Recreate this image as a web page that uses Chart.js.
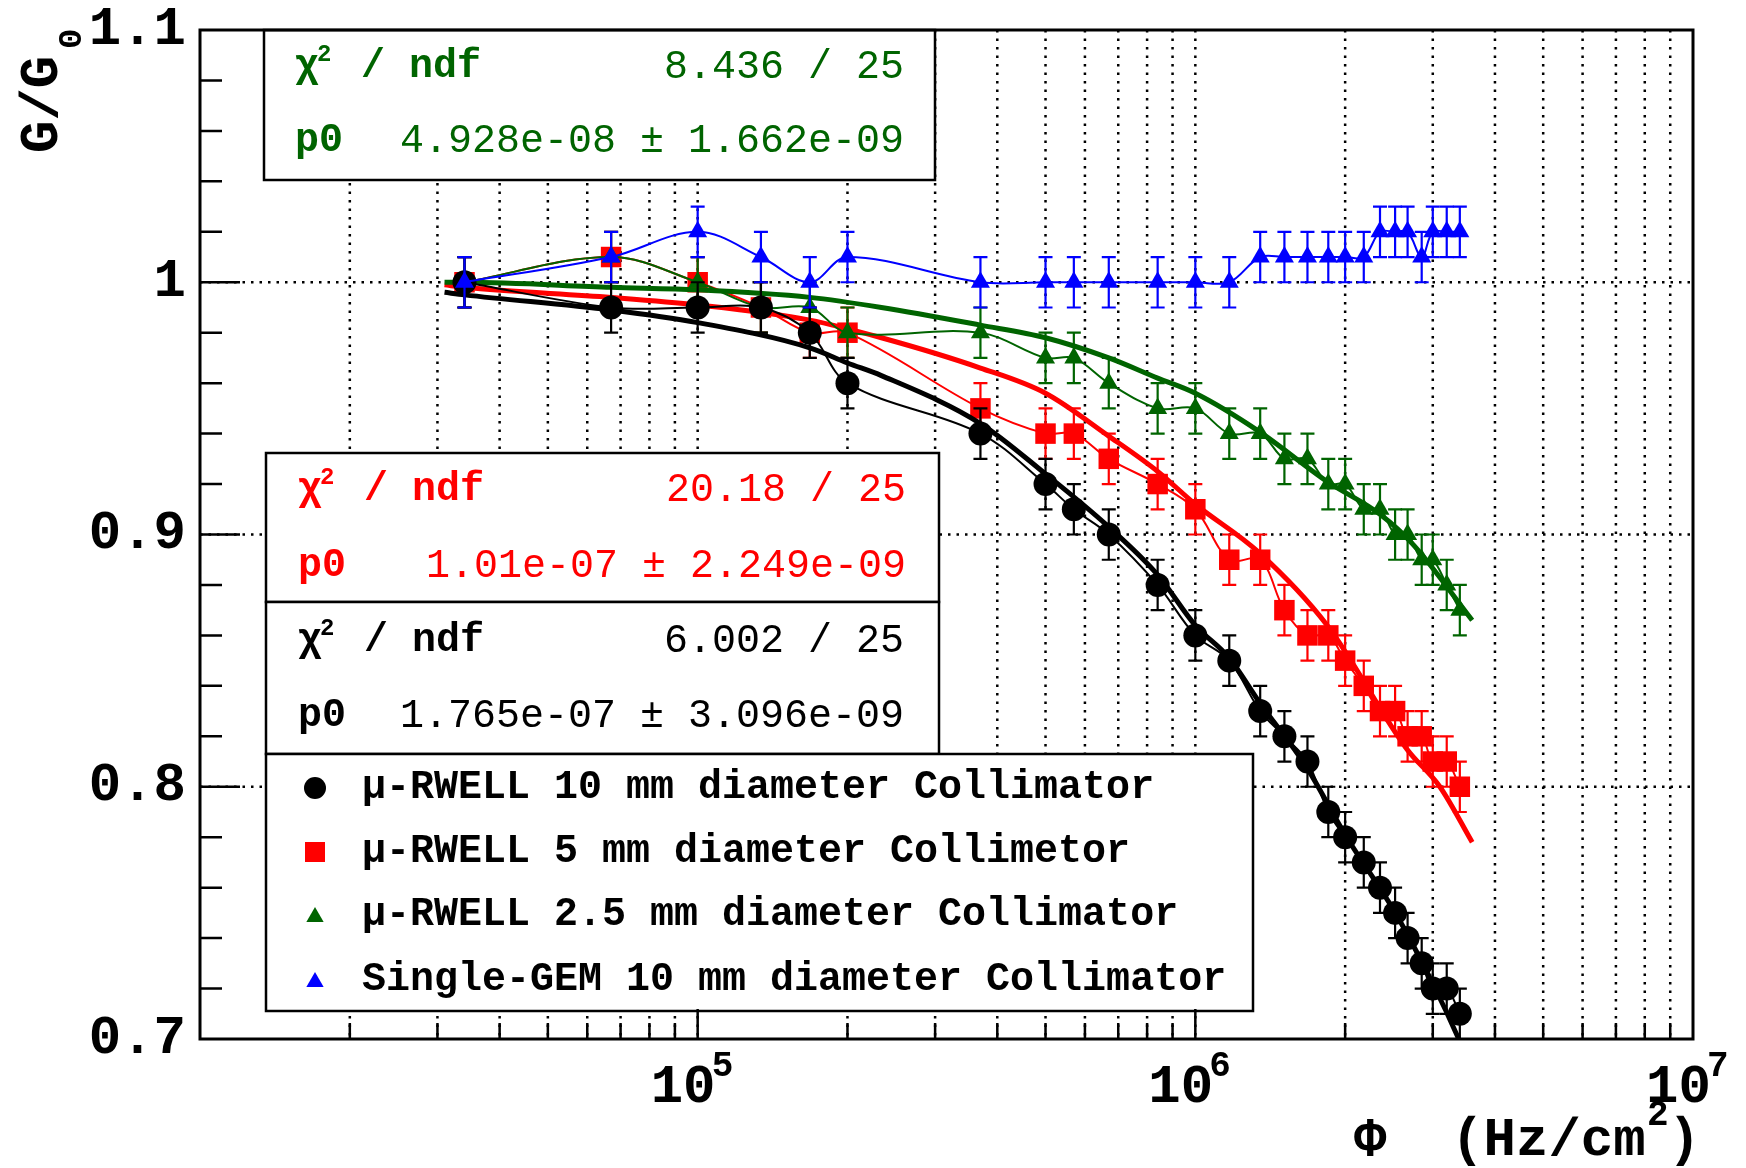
<!DOCTYPE html>
<html lang="en">
<head>
  <meta charset="UTF-8" />
  <title>G/G0 vs rate</title>
  <script src="https://cdn.jsdelivr.net/npm/chart.js@4.4.3/dist/chart.umd.min.js"></script>
  <style>
    body {
      margin: 0;
      background-color: #ffffff;
    }
    .chart-box {
      width: 1746px;
      height: 1168px;
    }
  </style>
</head>
<body>
  <div class="chart-box">
    <canvas id="gainChart" width="1746" height="1168"></canvas>
  </div>

  <script>
    // flux of each measurement step (Hz/cm2), same for all four curves
    const phi = [3.4e4, 6.7e4, 1.0e5, 1.34e5, 1.68e5, 2.0e5, 3.7e5, 5.0e5, 5.7e5, 6.7e5, 8.4e5, 1.0e6, 1.17e6,
                 1.35e6, 1.51e6, 1.68e6, 1.85e6, 2.0e6, 2.18e6, 2.35e6, 2.52e6, 2.67e6, 2.85e6, 3.0e6, 3.2e6, 3.4e6];

    // G/G0 per detector
    const gRwell10 = [1.00, 0.99, 0.99, 0.99, 0.98, 0.96, 0.94, 0.92, 0.91, 0.90, 0.88, 0.86, 0.85,
                      0.83, 0.82, 0.81, 0.79, 0.78, 0.77, 0.76, 0.75, 0.74, 0.73, 0.72, 0.72, 0.71];
    const gRwell5 = [1.00, 1.01, 1.00, 0.99, 0.98, 0.98, 0.95, 0.94, 0.94, 0.93, 0.92, 0.91, 0.89,
                     0.89, 0.87, 0.86, 0.86, 0.85, 0.84, 0.83, 0.83, 0.82, 0.82, 0.81, 0.81, 0.80];
    const gRwell25 = [1.00, 1.01, 1.00, 0.99, 0.99, 0.98, 0.98, 0.97, 0.97, 0.96, 0.95, 0.95, 0.94,
                      0.94, 0.93, 0.93, 0.92, 0.92, 0.91, 0.91, 0.90, 0.90, 0.89, 0.89, 0.88, 0.87];
    const gGem10 = [1.00, 1.01, 1.02, 1.01, 1.00, 1.01, 1.00, 1.00, 1.00, 1.00, 1.00, 1.00, 1.00,
                    1.01, 1.01, 1.01, 1.01, 1.01, 1.01, 1.02, 1.02, 1.02, 1.01, 1.02, 1.02, 1.02];

    // errors (same size for every point)
    const eRwell10 = [0.01, 0.01, 0.01, 0.01, 0.01, 0.01, 0.01, 0.01, 0.01, 0.01, 0.01, 0.01, 0.01,
                      0.01, 0.01, 0.01, 0.01, 0.01, 0.01, 0.01, 0.01, 0.01, 0.01, 0.01, 0.01, 0.01];
    const eRwell5 = [0.01, 0.01, 0.01, 0.01, 0.01, 0.01, 0.01, 0.01, 0.01, 0.01, 0.01, 0.01, 0.01,
                     0.01, 0.01, 0.01, 0.01, 0.01, 0.01, 0.01, 0.01, 0.01, 0.01, 0.01, 0.01, 0.01];
    const eRwell25 = [0.01, 0.01, 0.01, 0.01, 0.01, 0.01, 0.01, 0.01, 0.01, 0.01, 0.01, 0.01, 0.01,
                      0.01, 0.01, 0.01, 0.01, 0.01, 0.01, 0.01, 0.01, 0.01, 0.01, 0.01, 0.01, 0.01];
    const eGem10 = [0.01, 0.01, 0.01, 0.01, 0.01, 0.01, 0.01, 0.01, 0.01, 0.01, 0.01, 0.01, 0.01,
                    0.01, 0.01, 0.01, 0.01, 0.01, 0.01, 0.01, 0.01, 0.01, 0.01, 0.01, 0.01, 0.01];

    // fitted curves
    const fitPhi10 = [3.1e4, 3.4e4, 6.7e4, 1.0e5, 1.68e5, 2.0e5, 2.34e5, 3.7e5, 5.0e5, 6.7e5, 8.4e5, 1.0e6,
                      1.17e6, 1.35e6, 1.67e6, 2.0e6, 2.54e6, 3.0e6, 3.4e6, 3.6e6];
    const fitG10 = [0.996, 0.995, 0.989, 0.984, 0.974, 0.968, 0.963, 0.944, 0.924, 0.903, 0.884, 0.864,
                    0.851, 0.833, 0.808, 0.781, 0.749, 0.722, 0.699, 0.687];
    const fitPhi5 = [3.1e4, 3.4e4, 6.7e4, 1.0e5, 1.68e5, 2.34e5, 3.7e5, 5.0e5, 6.7e5, 8.4e5, 1.0e6,
                     1.34e6, 1.84e6, 2.66e6, 3.1e6, 3.6e6];
    const fitG5 = [0.999, 0.998, 0.994, 0.991, 0.985, 0.978, 0.966, 0.956, 0.939, 0.925, 0.912,
                   0.893, 0.864, 0.815, 0.800, 0.778];
    const fitPhi25 = [3.1e4, 3.4e4, 6.7e4, 1.0e5, 1.68e5, 2.34e5, 3.7e5, 5.0e5, 6.7e5, 8.4e5, 1.0e6,
                      1.34e6, 1.84e6, 2.35e6, 2.74e6, 3.6e6];
    const fitG25 = [1.000, 1.000, 0.998, 0.997, 0.994, 0.990, 0.983, 0.978, 0.970, 0.962, 0.956,
                    0.941, 0.921, 0.908, 0.896, 0.866];

    // texts
    const seriesLabels = ['μ-RWELL 10 mm diameter Collimator', 'μ-RWELL 5 mm diameter Collimetor',
                          'μ-RWELL 2.5 mm diameter Collimator', 'Single-GEM 10 mm diameter Collimator'];
    const chiValues = ['8.436 / 25', '20.18 / 25', '6.002 / 25'];   // 2.5 mm, 5 mm, 10 mm
    const p0Values = ['4.928e-08 ± 1.662e-09', '1.01e-07 ± 2.249e-09', '1.765e-07 ± 3.096e-09'];
    const yTickValues = [0.7, 0.8, 0.9, 1.0, 1.1];
    const yTickLabels = ['0.7', '0.8', '0.9', '1', '1.1'];
    const xDecades = [1e5, 1e6, 1e7];
    const xDecadeExp = ['5', '6', '7'];

    const BLACK = '#000000', RED = '#ff0000', GREEN = '#006400', BLUE = '#0000ff';
    const MONO = '"Liberation Mono", "DejaVu Sans Mono", monospace';

    const pts = (xs, ys) => xs.map((x, i) => ({ x: x, y: ys[i] }));

    function marker(ctx, style, x, y, r, color) {
      ctx.fillStyle = color;
      ctx.beginPath();
      if (style === 'circle') {
        ctx.arc(x, y, r, 0, Math.PI * 2);
      } else if (style === 'rect') {
        ctx.rect(x - r, y - r, 2 * r, 2 * r);
      } else {
        ctx.moveTo(x, y - r);
        ctx.lineTo(x + r * 0.866, y + r * 0.5);
        ctx.lineTo(x - r * 0.866, y + r * 0.5);
        ctx.closePath();
      }
      ctx.fill();
    }

    function statBox(ctx, b, color, chi, p0) {
      ctx.fillStyle = '#ffffff';
      ctx.fillRect(b.x, b.y, b.w, b.h);
      ctx.strokeStyle = '#000000';
      ctx.lineWidth = 2.5;
      ctx.strokeRect(b.x, b.y, b.w, b.h);
      ctx.fillStyle = color;
      ctx.textBaseline = 'middle';
      ctx.textAlign = 'left';
      ctx.font = 'bold 40px ' + MONO;
      ctx.fillText('χ', b.lx, b.r1);
      ctx.fillText('/ ndf', b.lx + 66, b.r1);
      ctx.fillText('p0', b.lx, b.r2);
      ctx.font = 'bold 24px ' + MONO;
      ctx.fillText('2', b.lx + 22, b.r1 - 12);
      ctx.font = '40px ' + MONO;
      ctx.textAlign = 'right';
      ctx.fillText(chi, b.rx, b.r1);
      ctx.fillText(p0, b.rx, b.r2);
    }

    // ROOT-like frame, dotted grid, inward ticks, error bars, stat boxes
    const rootLook = {
      id: 'rootLook',
      beforeDatasetsDraw(chart) {
        const { ctx, chartArea: a, scales: { x, y } } = chart;
        ctx.save();
        ctx.strokeStyle = '#000000';
        ctx.lineWidth = 2.5;
        ctx.setLineDash([2.5, 6]);
        for (let e = 4; e <= 6; e++) {
          for (let m = 1; m <= 9; m++) {
            const px = x.getPixelForValue(m * Math.pow(10, e));
            if (px <= a.left + 2 || px >= a.right - 2) continue;
            ctx.beginPath();
            ctx.moveTo(px, a.top);
            ctx.lineTo(px, a.bottom);
            ctx.stroke();
          }
        }
        [0.8, 0.9, 1.0].forEach(v => {
          const py = y.getPixelForValue(v);
          ctx.beginPath();
          ctx.moveTo(a.left, py);
          ctx.lineTo(a.right, py);
          ctx.stroke();
        });
        ctx.restore();
      },
      beforeDatasetDraw(chart, args) {
        const ds = chart.data.datasets[args.index];
        if (!ds.errors) return;
        const { ctx, scales: { x, y } } = chart;
        ctx.save();
        ctx.strokeStyle = ds.borderColor;
        ctx.lineWidth = 2.2;
        ds.data.forEach((p, i) => {
          const px = x.getPixelForValue(p.x);
          const top = y.getPixelForValue(p.y + ds.errors[i]);
          const bot = y.getPixelForValue(p.y - ds.errors[i]);
          ctx.beginPath();
          ctx.moveTo(px, top); ctx.lineTo(px, bot);
          ctx.moveTo(px - 7, top); ctx.lineTo(px + 7, top);
          ctx.moveTo(px - 7, bot); ctx.lineTo(px + 7, bot);
          ctx.stroke();
        });
        ctx.restore();
      },
      afterDraw(chart) {
        const { ctx, chartArea: a, scales: { x, y } } = chart;
        ctx.save();

        statBox(ctx, { x: 264, y: 30, w: 671, h: 150, lx: 295, rx: 904, r1: 67, r2: 141 }, GREEN, chiValues[0], p0Values[0]);
        statBox(ctx, { x: 266, y: 453, w: 673, h: 149, lx: 298, rx: 906, r1: 490, r2: 566 }, RED, chiValues[1], p0Values[1]);
        statBox(ctx, { x: 266, y: 602, w: 673, h: 152, lx: 298, rx: 904, r1: 641, r2: 716 }, BLACK, chiValues[2], p0Values[2]);

        // legend
        ctx.fillStyle = '#ffffff';
        ctx.fillRect(266, 754, 987, 257);
        ctx.strokeStyle = '#000000';
        ctx.lineWidth = 2.5;
        ctx.strokeRect(266, 754, 987, 257);
        const rows = [788, 852, 915, 980];
        const styles = [['circle', 11, BLACK], ['rect', 10, RED], ['triangle', 10, GREEN], ['triangle', 10, BLUE]];
        rows.forEach((ry, i) => {
          marker(ctx, styles[i][0], 315, ry + (styles[i][0] === 'triangle' ? 2 : 0), styles[i][1], styles[i][2]);
          ctx.fillStyle = '#000000';
          ctx.font = 'bold 40px ' + MONO;
          ctx.textAlign = 'left';
          ctx.textBaseline = 'middle';
          ctx.fillText(seriesLabels[i], 362, ry);
        });

        // frame
        ctx.strokeStyle = '#000000';
        ctx.lineWidth = 3;
        ctx.strokeRect(a.left, a.top, a.right - a.left, a.bottom - a.top);

        // ticks, drawn inward
        ctx.lineWidth = 2.5;
        ctx.beginPath();
        for (let k = 36; k <= 54; k++) {
          const py = y.getPixelForValue(k / 50);
          ctx.moveTo(a.left, py);
          ctx.lineTo(a.left + (k % 5 === 0 ? 40 : 22), py);
        }
        for (let e = 4; e <= 6; e++) {
          for (let m = 1; m <= 9; m++) {
            const px = x.getPixelForValue(m * Math.pow(10, e));
            if (px <= a.left + 2) continue;
            ctx.moveTo(px, a.bottom);
            ctx.lineTo(px, a.bottom - (m === 1 ? 30 : 16));
          }
        }
        ctx.stroke();

        // tick labels
        ctx.fillStyle = '#000000';
        ctx.font = 'bold 54px ' + MONO;
        ctx.textAlign = 'right';
        ctx.textBaseline = 'middle';
        yTickValues.forEach((v, i) => ctx.fillText(yTickLabels[i], 186, y.getPixelForValue(v)));

        ctx.textAlign = 'left';
        ctx.textBaseline = 'alphabetic';
        xDecades.forEach((v, i) => {
          const px = x.getPixelForValue(v);
          ctx.font = 'bold 54px ' + MONO;
          ctx.fillText('10', px - 47, 1102);
          ctx.font = 'bold 36px ' + MONO;
          ctx.fillText(xDecadeExp[i], px + 14, 1076);
        });

        // axis titles
        ctx.font = 'bold 54px ' + MONO;
        ctx.textAlign = 'left';
        ctx.fillText('Φ  (Hz/cm', 1354, 1155);
        ctx.fillText(')', 1668, 1155);
        ctx.font = 'bold 36px ' + MONO;
        ctx.fillText('2', 1647, 1125);

        ctx.translate(57, 153);
        ctx.rotate(-Math.PI / 2);
        ctx.font = 'bold 54px ' + MONO;
        ctx.fillText('G/G', 0, 0);
        ctx.font = 'bold 34px ' + MONO;
        ctx.fillText('0', 104, 24);

        ctx.restore();
      }
    };

    const dataLine = (label, xs, ys, errs, color, style, radius, order) => ({
      label: label,
      data: pts(xs, ys),
      errors: errs,
      showLine: true,
      borderColor: color,
      borderWidth: 2,
      tension: 0.35,
      pointStyle: style,
      pointRadius: radius,
      pointBackgroundColor: color,
      pointBorderColor: color,
      pointBorderWidth: 0,
      order: order
    });

    const fitLine = (xs, ys, color, order) => ({
      data: pts(xs, ys),
      showLine: true,
      borderColor: color,
      borderWidth: 5,
      cubicInterpolationMode: 'monotone',
      pointRadius: 0,
      clip: 0,
      order: order
    });

    new Chart(document.getElementById('gainChart').getContext('2d'), {
      type: 'scatter',
      data: {
        datasets: [
          dataLine(seriesLabels[1], phi, gRwell5, eRwell5, RED, 'rect', 14.5, 8),
          fitLine(fitPhi5, fitG5, RED, 7),
          dataLine(seriesLabels[2], phi, gRwell25, eRwell25, GREEN, 'triangle', 11, 6),
          fitLine(fitPhi25, fitG25, GREEN, 5),
          dataLine(seriesLabels[0], phi, gRwell10, eRwell10, BLACK, 'circle', 12, 4),
          fitLine(fitPhi10, fitG10, BLACK, 3),
          dataLine(seriesLabels[3], phi, gGem10, eGem10, BLUE, 'triangle', 11, 1)
        ]
      },
      options: {
        responsive: false,
        devicePixelRatio: 1,
        animation: false,
        events: [],
        layout: {
          padding: { left: 200, right: 53, top: 30, bottom: 129 }
        },
        scales: {
          x: { type: 'logarithmic', min: 1e4, max: 1e7, display: false },
          y: { type: 'linear', min: 0.7, max: 1.1, display: false }
        },
        plugins: {
          legend: { display: false },
          tooltip: { enabled: false }
        }
      },
      plugins: [rootLook]
    });
  </script>
</body>
</html>
